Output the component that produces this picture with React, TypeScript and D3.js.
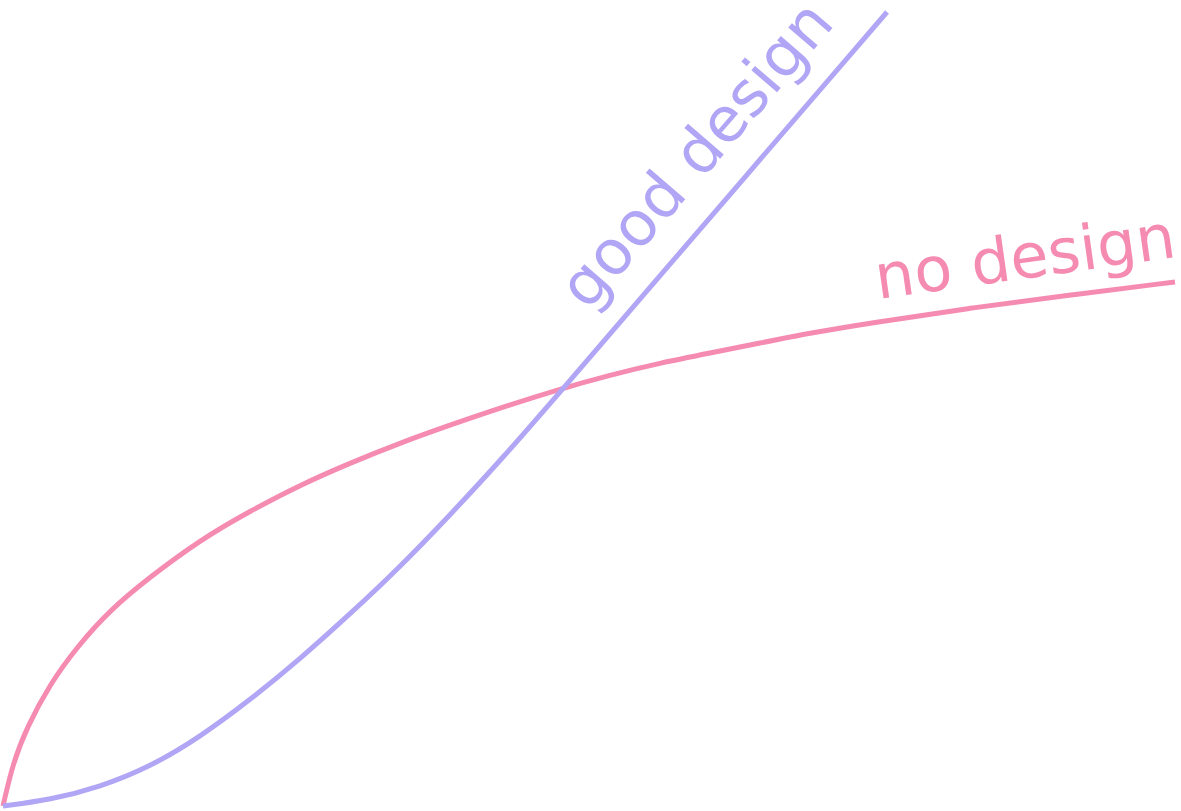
import React from 'react';
import * as d3 from 'd3';

// effort (x) vs. outcome (y), both on a 0..100 scale
const noDesignX = [0, 0.85, 2.05, 4.01, 6.31, 9.13, 12.54, 16.81, 21.08, 25.34, 29.61, 33.87, 38.14, 42.41, 47.53, 51.79, 56.06, 60.32, 64.59, 68.86, 73.98, 82.51, 91.04, 100];
const noDesignY = [0, 5.42, 9.95, 15.37, 20.03, 24.69, 28.84, 33.5, 37.15, 40.43, 43.2, 45.72, 47.98, 50.13, 52.52, 54.28, 55.79, 57.05, 58.31, 59.57, 60.83, 62.72, 64.36, 66.0];

const goodDesignX = [0, 4.01, 8.28, 12.54, 16.81, 21.08, 25.34, 29.61, 33.87, 38.14, 42.41, 47.53, 54.35, 75.43];
const goodDesignY = [0, 0.76, 2.39, 4.91, 8.69, 13.35, 18.51, 24.18, 30.1, 36.65, 43.45, 52.14, 63.85, 100];

const seriesNames = ['no design', 'good design'];
const seriesColors = ['#f58bb0', '#b1a6f5'];

const WIDTH = 1181;
const HEIGHT = 811;

export default function App() {
  const x = d3.scaleLinear().domain([0, 100]).range([3, 1175]);
  const y = d3.scaleLinear().domain([0, 100]).range([806, 12]);

  const line = d3
    .line<[number, number]>()
    .x((d) => x(d[0]))
    .y((d) => y(d[1]))
    .curve(d3.curveBasis);

  const noDesign = noDesignX.map((v, i) => [v, noDesignY[i]] as [number, number]);
  const goodDesign = goodDesignX.map((v, i) => [v, goodDesignY[i]] as [number, number]);

  // label angle follows the straight end of the good-design curve
  const gd0 = goodDesign[goodDesign.length - 2];
  const gd1 = goodDesign[goodDesign.length - 1];
  const gdAngle = (Math.atan2(y(gd1[1]) - y(gd0[1]), x(gd1[0]) - x(gd0[0])) * 180) / Math.PI;

  return (
    <svg
      width={WIDTH}
      height={HEIGHT}
      style={{ position: 'absolute', left: 0, top: 0, display: 'block', background: '#fff' }}
    >
      <path d={line(noDesign) || ''} fill="none" stroke={seriesColors[0]} strokeWidth={5} />
      <path d={line(goodDesign) || ''} fill="none" stroke={seriesColors[1]} strokeWidth={5} />

      <text
        transform={`translate(588,312) rotate(${gdAngle})`}
        fill={seriesColors[1]}
        fontFamily="'DejaVu Sans', sans-serif"
        fontSize={62}
      >
        {seriesNames[1]}
      </text>
      <text
        transform="translate(878,299) rotate(-8)"
        fill={seriesColors[0]}
        fontFamily="'DejaVu Sans', sans-serif"
        fontSize={62}
      >
        {seriesNames[0]}
      </text>
    </svg>
  );
}
